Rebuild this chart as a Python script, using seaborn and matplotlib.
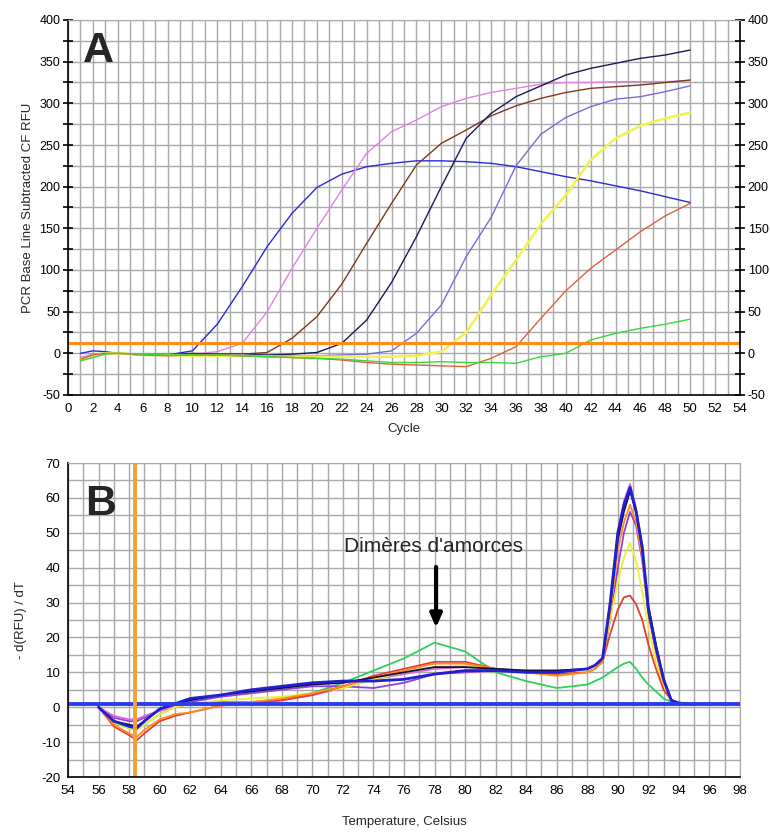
# courbes PCR temps reel (A) et courbes de fusion (B)

import numpy as np
import pandas as pd
import seaborn as sns
import matplotlib.pyplot as plt
from matplotlib.ticker import MultipleLocator

# donnees panneau A : fluorescence par cycle
cycles = [1, 2, 3, 4, 6, 8, 10, 12, 14, 16, 18, 20, 22, 24, 26, 28, 30, 32, 34, 36, 38, 40, 42, 44, 46, 48, 50]

a_blue   = [0, 3, 2, 0, -2, -2, 3, 35, 80, 128, 168, 199, 215, 224, 228, 231, 231, 230, 228, 224, 218, 212, 207, 201, 195, 188, 181]
a_pink   = [-5, -1, 0, 0, -1, -2, -1, 2, 12, 50, 102, 150, 196, 240, 266, 280, 296, 306, 313, 318, 323, 325, 325, 326, 326, 326, 327]
a_brown  = [-7, -3, 0, 0, -1, -1, 0, -1, -1, 1, 18, 44, 83, 132, 180, 226, 252, 268, 285, 297, 306, 313, 318, 320, 322, 325, 328]
a_navy   = [-8, -3, 0, 0, -2, -2, -1, -1, -1, -2, -1, 1, 12, 40, 85, 140, 200, 258, 288, 308, 321, 334, 342, 348, 354, 358, 364]
a_purple = [-6, -2, 0, 0, -2, -2, -2, -2, -2, -3, -3, -3, -2, -1, 3, 24, 58, 116, 163, 225, 263, 283, 296, 305, 308, 314, 321]
a_yellow = [-7, -3, 0, 0, -2, -2, -3, -3, -3, -4, -4, -4, -4, -4, -4, -3, 2, 25, 70, 112, 155, 190, 232, 258, 273, 282, 289]
a_orange = [-7, -2, 0, 0, -2, -3, -2, -2, -3, -4, -5, -6, -8, -11, -13, -14, -15, -16, -6, 8, 42, 75, 102, 124, 146, 165, 180]
a_green  = [-9, -5, -1, 0, -1, -2, -2, -2, -3, -4, -5, -6, -7, -9, -11, -11, -10, -11, -11, -12, -4, 0, 16, 24, 30, 35, 41]

a_series = {
    "blue": (a_blue, "#2a2ad8", 1.0),
    "pink": (a_pink, "#e57ee5", 1.0),
    "brown": (a_brown, "#7a3a1e", 1.0),
    "navy": (a_navy, "#1a1a5a", 1.0),
    "purple": (a_purple, "#7a6ad8", 1.0),
    "yellow": (a_yellow, "#f2f24a", 1.8),
    "orange": (a_orange, "#e0603a", 1.0),
    "green": (a_green, "#3ad83a", 1.0),
}
seuil_a = 12

# donnees panneau B : -dF/dT par temperature
temps = [56, 57, 58, 58.5, 59, 60, 61, 62, 64, 66, 68, 70, 72, 74, 76, 78, 80, 82, 84, 86,
         88, 88.5, 89, 89.5, 90, 90.4, 90.8, 91.2, 91.6, 92, 92.5, 93, 93.5, 94, 94.5]

b_blue   = [0, -4, -5.5, -6, -4, -0.5, 1, 2.5, 3.5, 5, 6, 7, 7.5, 7.5, 8, 9.5, 10.5, 10.5, 10, 10,
            11, 12, 14, 30, 50, 58, 63, 56, 46, 28, 17, 8, 2, 1.2, 1]
b_navy   = [0, -4, -5, -5.5, -4, -0.5, 1, 2, 3.5, 4.5, 5.5, 6.5, 7, 8.5, 10, 11.5, 11.5, 11, 10.5, 10.5,
            11, 12, 14, 29, 48, 56, 62, 56, 45, 29, 18, 8, 2, 1.2, 1]
b_violet = [0, -3, -4, -4, -3, -1, 0.5, 1.5, 3, 4, 5, 6, 6, 5.5, 7, 9.5, 10, 10.5, 10.5, 10.5,
            11, 12, 13, 25, 40, 50, 56, 52, 42, 27, 16, 7, 2, 1.2, 1]
b_pink   = [0, -2.5, -3.5, -3.5, -2.5, -1, 0, 1, 1.5, 1.5, 2, 3.5, 5.5, 8, 9.5, 11, 11.5, 11, 10.5, 10,
            11, 12, 14, 30, 50, 59, 64, 57, 46, 29, 17, 7, 2, 1.2, 1]
b_yellow = [0, -4.5, -6, -6.5, -5, -2, 0, 1, 2, 2.5, 3, 4, 5.5, 8, 10, 11.5, 12, 11, 10, 9.5,
            11, 12, 14, 25, 36, 43, 47, 42, 33, 23, 13, 6, 2, 1.2, 1]
b_orange = [0, -5, -7.5, -8.5, -6.5, -3.5, -2, -1.5, 0.5, 1.5, 2.5, 4, 6, 8.5, 10.5, 12.5, 12.5, 11, 10, 9,
            10, 11, 13, 27, 45, 53, 58, 53, 43, 28, 16, 7, 2, 1.2, 1]
b_red    = [0, -5.5, -8, -9.5, -7.5, -4, -2.5, -1.5, 0.5, 1, 2, 3.5, 6, 9, 11, 13, 13, 11, 10, 9.5,
            10, 11, 13, 21, 28, 31.5, 32, 29.5, 25, 18, 11, 5, 2, 1.2, 1]
b_green  = [0, -4.5, -6, -6.5, -5, -2, 0, 1, 1.5, 1.5, 2, 4, 7, 10.5, 14, 18.5, 16, 10, 7.5, 5.5,
            6.5, 7.5, 8.5, 10, 11.5, 12.5, 13, 11, 8.5, 6.5, 4.5, 2.5, 1.5, 1.2, 1]

b_series = {
    "green": (b_green, "#30d060", 1.3),
    "violet": (b_violet, "#9040e0", 1.3),
    "pink": (b_pink, "#e060e0", 1.3),
    "yellow": (b_yellow, "#f0f030", 1.3),
    "red": (b_red, "#e04030", 1.3),
    "orange": (b_orange, "#ff8c20", 1.3),
    "navy": (b_navy, "#101040", 1.3),
    "blue": (b_blue, "#2020d0", 2.0),
}
seuil_b = 1
temp_curseur = 58.4

sns.set_style("white")
plt.rcParams["font.family"] = ["Liberation Sans", "DejaVu Sans"]
plt.rcParams["axes.unicode_minus"] = False

fig = plt.figure(figsize=(7.7, 8.34), dpi=100)
ax_a = fig.add_axes([68 / 770, 1 - 395 / 834, 672 / 770, 375 / 834])
ax_b = fig.add_axes([68 / 770, 1 - 777 / 834, 672 / 770, 314 / 834])

grille = "#a8a8a8"


def prepare(ax):
    ax.set_axisbelow(True)
    ax.grid(which="both", color=grille, linewidth=1.0)
    for s in ["top", "right"]:
        ax.spines[s].set_color(grille)
    for s in ["left", "bottom"]:
        ax.spines[s].set_color("black")
        ax.spines[s].set_linewidth(1.2)
    ax.tick_params(which="both", direction="inout", length=7, width=1.2, labelsize=9.5,
                   colors="black", pad=2)


# --- panneau A
prepare(ax_a)
df_a = pd.DataFrame({"Cycle": cycles})
for nom, (vals, coul, lw) in a_series.items():
    df_a[nom] = vals
    sns.lineplot(data=df_a, x="Cycle", y=nom, color=coul, linewidth=lw, ax=ax_a)
ax_a.axhline(seuil_a, color="#ff8c1a", linewidth=2.2)

ax_a.set_xlim(0, 54)
ax_a.set_ylim(-50, 400)
ax_a.xaxis.set_major_locator(MultipleLocator(2))
ax_a.xaxis.set_minor_locator(MultipleLocator(1))
ax_a.yaxis.set_major_locator(MultipleLocator(50))
ax_a.yaxis.set_minor_locator(MultipleLocator(25))
ax_a.tick_params(which="both", right=True, labelright=True, left=True)
ax_a.tick_params(axis="y", which="both", labelsize=9)
ax_a.spines["right"].set_color("black")
ax_a.spines["right"].set_linewidth(1.2)
ax_a.set_xlabel("Cycle", fontsize=9.5, labelpad=6)
ax_a.set_ylabel("PCR Base Line Subtracted CF RFU", fontsize=9.5, labelpad=4)
ax_a.text(1.2, 350, "A", fontsize=31, fontweight="bold", ha="left", va="baseline")

# --- panneau B
prepare(ax_b)
df_b = pd.DataFrame({"Temperature": temps})
for nom, (vals, coul, lw) in b_series.items():
    df_b[nom] = vals
    sns.lineplot(data=df_b, x="Temperature", y=nom, color=coul, linewidth=lw, ax=ax_b)
ax_b.axhline(seuil_b, color="#2a3cf0", linewidth=2.8)
ax_b.axvline(temp_curseur, color="#f5a030", linewidth=2.8)

ax_b.set_xlim(54, 98)
ax_b.set_ylim(-20, 70)
ax_b.xaxis.set_major_locator(MultipleLocator(2))
ax_b.xaxis.set_minor_locator(MultipleLocator(1))
ax_b.yaxis.set_major_locator(MultipleLocator(10))
ax_b.yaxis.set_minor_locator(MultipleLocator(5))
ax_b.set_xlabel("Temperature, Celsius", fontsize=9.5, labelpad=14)
ax_b.set_ylabel("- d(RFU) / dT", fontsize=9.5, labelpad=10)
ax_b.text(55.1, 55, "B", fontsize=31, fontweight="bold", ha="left", va="baseline")
ax_b.text(77.9, 44.5, "Dimères d'amorces", fontsize=15, ha="center", va="baseline")
ax_b.annotate("", xy=(78.1, 22), xytext=(78.1, 41),
              arrowprops=dict(arrowstyle="-|>,head_width=0.35,head_length=0.8",
                              color="black", linewidth=3))

fig.savefig("out.png", dpi=100, facecolor="white")
